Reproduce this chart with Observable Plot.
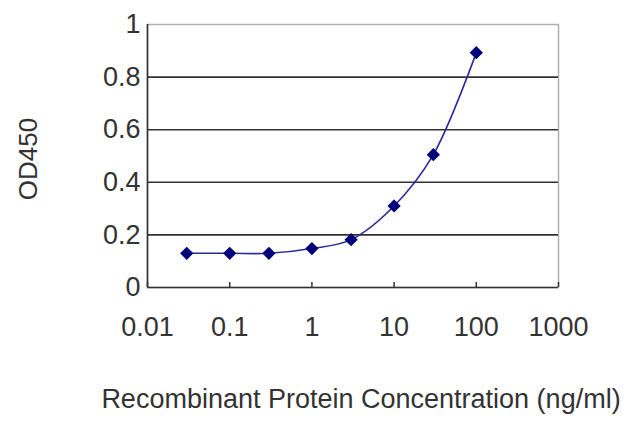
<!DOCTYPE html>
<html>
<head>
<meta charset="utf-8">
<script src="https://cdn.jsdelivr.net/npm/d3@7"></script>
<script src="https://cdn.jsdelivr.net/npm/@observablehq/plot@0.6"></script>
<style>
  html, body { margin: 0; padding: 0; background: #fff; }
</style>
</head>
<body>
<div id="chart"></div>
<script>
const concentration = [0.03, 0.1, 0.3, 1, 3, 10, 30, 100];
const od450 = [0.13, 0.13, 0.13, 0.148, 0.182, 0.31, 0.505, 0.893];
const xTicks = [0.01, 0.1, 1, 10, 100, 1000];
const yTicks = [0, 0.2, 0.4, 0.6, 0.8, 1];
const gridY = [0.2, 0.4, 0.6, 0.8];
const xTitle = "Recombinant Protein Concentration (ng/ml)";
const yTitle = "OD450";

const data = concentration.map((c, i) => ({c, v: od450[i]}));
const FONT = "'Liberation Sans', Arial, sans-serif";

const chart = Plot.plot({
  width: 640,
  height: 427,
  marginLeft: 147,
  marginRight: 82,
  marginTop: 24,
  marginBottom: 140,
  style: {fontFamily: FONT, fontSize: "27px", color: "#333", background: "#fff"},
  x: {type: "log", domain: [0.01, 1000]},
  y: {domain: [0, 1]},
  marks: [
    Plot.frame({stroke: "#b0b0b0", strokeWidth: 1.5}),
    Plot.ruleY(gridY, {stroke: "#333", strokeWidth: 1.6}),
    Plot.ruleY([0], {stroke: "#333", strokeWidth: 1.6}),
    Plot.ruleX([0.01], {stroke: "#333", strokeWidth: 1.6}),
    Plot.axisX(xTicks, {tickSize: -5, tickFormat: () => "", stroke: "#333", strokeWidth: 1.5, label: null}),
    Plot.axisX(xTicks, {tickSize: 0, tickPadding: 29, tickFormat: d => String(d), fontSize: 27, fill: "#333", label: null}),
    Plot.axisY(yTicks, {tickSize: 0, tickPadding: 7, tickFormat: d => String(d), fontSize: 27, fill: "#333", label: null}),
    Plot.text([xTitle], {frameAnchor: "bottom", dx: 8, dy: 120, fontSize: 27, fill: "#333"}),
    Plot.text([yTitle], {frameAnchor: "left", textAnchor: "middle", rotate: -90, dx: -119, dy: 3, fontSize: 26, fill: "#333"}),
    Plot.line(data, {x: "c", y: "v", stroke: "#2a2a9a", strokeWidth: 1.6, curve: "catmull-rom"}),
    Plot.dot(data, {x: "c", y: "v", symbol: "diamond2", r: 5, fill: "#00007a", stroke: "#00007a"})
  ]
});
document.getElementById("chart").appendChild(chart);
</script>
</body>
</html>
